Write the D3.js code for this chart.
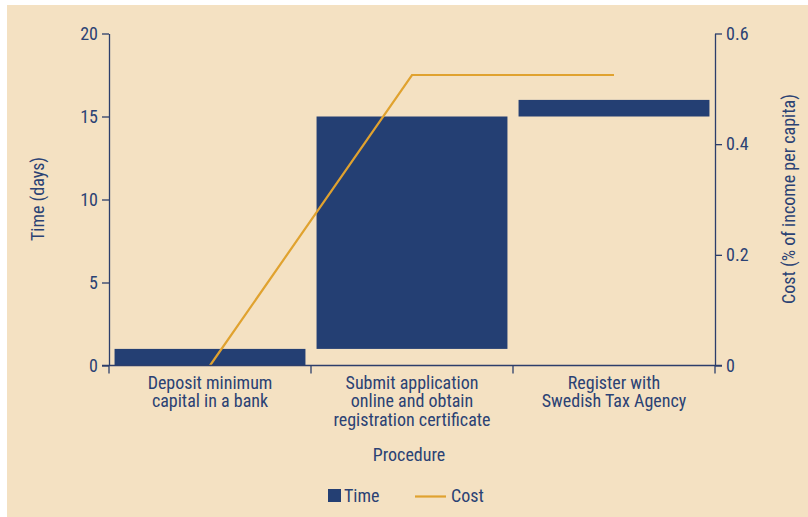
<!DOCTYPE html>
<html><head><meta charset="utf-8">
<script src="https://cdn.jsdelivr.net/npm/d3@7"></script>
<style>
html,body{margin:0;padding:0;background:#fff;}
svg text{font-family:"Roboto",sans-serif;font-stretch:condensed;fill:#2b4274;}
</style></head>
<body><svg id="c" width="808" height="517"></svg>
<script>
const categories = [
  ["Deposit minimum","capital in a bank"],
  ["Submit application","online and obtain","registration certificate"],
  ["Register with","Swedish Tax Agency"]
];
const timeDays = [1, 14, 1];
const costPct = [0, 0.525, 0.525];
const timeTicks = [0, 5, 10, 15, 20];
const costTicks = [0, 0.2, 0.4, 0.6];

const svg = d3.select("#c");
const bg = "#f4e1c2", navy = "#243f73", orange = "#e0a22f", axisC = "#2c3e6b";
svg.append("rect").attr("x",7).attr("y",5).attr("width",801).attr("height",512).attr("fill",bg);

const L = 109, R = 715, T = 33.5, B = 365.5;
const x = d3.scaleBand().domain(d3.range(categories.length)).range([L, R]).padding(0);
const yT = d3.scaleLinear().domain([0, 20]).range([B, T]);
const yC = d3.scaleLinear().domain([0, 0.6]).range([B, T]);

// bars (waterfall)
let cum = 0;
const bars = timeDays.map((d,i)=>{ const s = cum; cum += d; return {i, s, e: cum}; });
const bw = x.bandwidth()*0.945;
svg.append("g").selectAll("rect").data(bars).join("rect")
  .attr("x", d => x(d.i) + (x.bandwidth()-bw)/2)
  .attr("width", bw)
  .attr("y", d => yT(d.e))
  .attr("height", d => yT(d.s) - yT(d.e))
  .attr("fill", navy);

// cost line
const line = d3.line().x((d,i)=> x(i) + x.bandwidth()/2).y(d => yC(d));
svg.append("path").datum(costPct).attr("d", line).attr("fill","none")
  .attr("stroke", orange).attr("stroke-width", 2.2);

// axes
const fs = 18;
const gl = svg.append("g").attr("transform", `translate(${L},0)`)
  .call(d3.axisLeft(yT).tickValues(timeTicks).tickSize(7).tickPadding(4).tickSizeOuter(0));
const gr = svg.append("g").attr("transform", `translate(${R},0)`)
  .call(d3.axisRight(yC).tickValues(costTicks).tickSize(7).tickPadding(4).tickSizeOuter(0)
    .tickFormat(d => d === 0 ? "0" : d3.format(".1f")(d)));
[gl, gr].forEach(g => {
  g.attr("font-family", null).attr("font-size", null);
  g.select(".domain").attr("stroke", axisC).attr("stroke-width", 1.3);
  g.selectAll(".tick line").attr("stroke", axisC).attr("stroke-width", 1.3);
  g.selectAll(".tick text").attr("font-size", fs).style("fill","#2b4274");
});

// x axis line and category separators
svg.append("line").attr("x1", L-7).attr("x2", R+7).attr("y1", B).attr("y2", B)
  .attr("stroke", axisC).attr("stroke-width", 1.3);
const seps = d3.range(categories.length+1).map(i => i < categories.length ? x(i) : R);
svg.append("g").selectAll("line").data(seps).join("line")
  .attr("x1", d=>d).attr("x2", d=>d).attr("y1", B).attr("y2", B+8)
  .attr("stroke", axisC).attr("stroke-width", 1.3);

// category labels
const cl = svg.append("g").selectAll("text").data(categories).join("text")
  .attr("text-anchor","middle").attr("font-size", fs)
  .attr("transform", (d,i)=>`translate(${x(i)+x.bandwidth()/2},${388.5})`);
cl.selectAll("tspan").data(d=>d).join("tspan")
  .attr("x",0).attr("dy",(d,j)=> j===0 ? 0 : 18.8).text(d=>d);

// axis titles
svg.append("text").attr("text-anchor","middle").attr("font-size", fs)
  .attr("x", 409).attr("y", 461).text("Procedure");
svg.append("text").attr("text-anchor","middle").attr("font-size", fs)
  .attr("transform","translate(44,199) rotate(-90)").text("Time (days)");
svg.append("text").attr("text-anchor","middle").attr("font-size", fs)
  .attr("transform","translate(795,199) rotate(-90)").text("Cost (% of income per capita)");

// legend
svg.append("rect").attr("x",328).attr("y",489).attr("width",13).attr("height",13).attr("fill",navy);
svg.append("text").attr("x",344).attr("y",502).attr("font-size",fs).text("Time");
svg.append("line").attr("x1",415).attr("x2",446).attr("y1",496.5).attr("y2",496.5)
  .attr("stroke",orange).attr("stroke-width",2.2);
svg.append("text").attr("x",451).attr("y",502).attr("font-size",fs).text("Cost");
</script></body></html>
